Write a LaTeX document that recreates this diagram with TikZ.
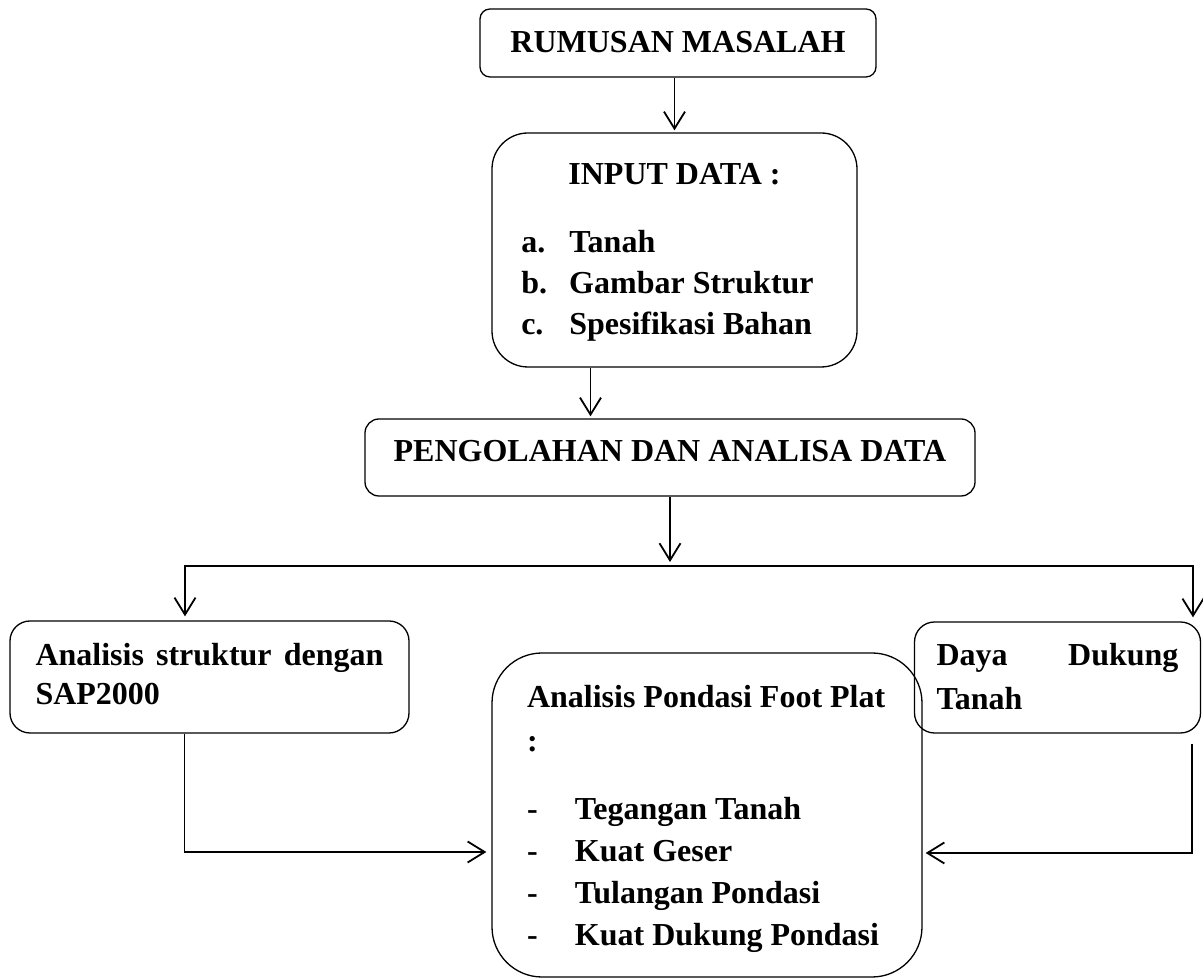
\documentclass[tikz,border=0pt]{standalone}
\usepackage{fontspec}
\setmainfont{Liberation Serif}
\usetikzlibrary{arrows.meta,positioning}
\newcommand{\pdash}{\makebox[48pt][l]{-}}
\tikzset{box/.style={draw,line width=1.3pt,inner sep=0pt,font=\fontsize{32}{41}\selectfont\bfseries},arr/.style={-{Straight Barb[length=17pt,width=21pt]},line width=1.8pt}}
\begin{document}
\begin{tikzpicture}[x=1pt,y=1pt]
\useasboundingbox (0,0) rectangle (1203,979);
\node[box,minimum width=396pt,rounded corners=10pt,text height=44pt,text depth=24pt] (rumusan) at (678,936) {RUMUSAN MASALAH};
\node[box,minimum width=365pt,rounded corners=36pt,text height=52pt,text depth=182pt] (input) at (674.5,729) {\begin{tabular}[t]{@{}p{48pt}@{}l@{\hspace{14pt}}}\multicolumn{2}{@{}c@{}}{INPUT DATA :}\\[27pt] a.&Tanah\\ b.&Gambar Struktur\\ c.&Spesifikasi Bahan\end{tabular}};
\node[box,minimum width=610pt,rounded corners=14pt,text height=43pt,text depth=34pt] (olah) at (670,521.5) {PENGOLAHAN DAN ANALISA DATA};
\node[box,minimum width=399pt,text width=348pt,align=flush left,rounded corners=20pt,text height=45pt,text depth=67pt,font=\fontsize{32}{39}\selectfont\bfseries] (struktur) at (209.5,302) {\makebox[348pt][s]{Analisis struktur dengan}\\SAP2000};
\node[box,minimum width=286pt,text width=242pt,align=flush left,rounded corners=20pt,text height=44pt,text depth=67pt,font=\fontsize{32}{44}\selectfont\bfseries] (daya) at (1057.5,301.5) {\makebox[242pt][s]{Daya Dukung}\\Tanah};
\node[box,minimum width=430pt,text width=360pt,align=flush left,rounded corners=50pt,text height=55pt,text depth=269pt,font=\fontsize{32}{42}\selectfont\bfseries] (pondasi) at (707,164) {\mbox{Analisis Pondasi Foot Plat}\\[2pt]:\\[26pt]\pdash Tegangan Tanah\\\pdash Kuat Geser\\\pdash Tulangan Pondasi\\\pdash Kuat Dukung Pondasi};
\coordinate (fork) at (670,413);
\draw[arr,shorten >=2pt] (rumusan.south -| input.north) -- (input.north);
\draw[arr,shorten >=2pt] ([xshift=-84pt]input.south) -- ([xshift=-84pt]input.south |- olah.north);
\draw[arr,shorten >=4pt] (olah.south) -- (fork);
\draw[arr,shorten >=4pt] (fork) -| ([xshift=-24.5pt]struktur.north);\draw[arr,shorten >=4pt] (fork) -| ([xshift=135.5pt]daya.north);
\draw[arr,shorten >=5pt] ([xshift=-25pt]struktur.south) |- ([yshift=-37pt]pondasi.west);
\draw[arr,shorten >=3pt] ([xshift=134.5pt,yshift=-10pt]daya.south) |- ([yshift=-38pt]pondasi.east);
\end{tikzpicture}
\end{document}
